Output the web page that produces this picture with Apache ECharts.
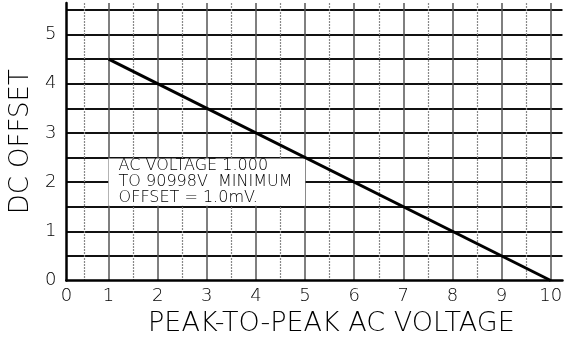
<!DOCTYPE html>
<html>
<head>
<meta charset="utf-8">
<script src="https://cdn.jsdelivr.net/npm/echarts@6/dist/echarts.min.js"></script>
<style>
  html, body { margin: 0; padding: 0; background: #fff; }
  #chart { width: 565px; height: 343px; }
</style>
</head>
<body>
<div id="chart"></div>
<script>
// Minimum DC offset against peak-to-peak AC voltage
const acVoltage = [1, 10];
const dcOffset = [4.5, 0];

// Axis ticks and labels
const xMajorTicks = [1, 2, 3, 4, 5, 6, 7, 8, 9, 10];
const xMinorTicks = [0.5, 1.5, 2.5, 3.5, 4.5, 5.5, 6.5, 7.5, 8.5, 9.5];
const xLabelValues = [0, 1, 2, 3, 4, 5, 6, 7, 8, 9, 10];
const yGridTicks = [0.5, 1, 1.5, 2, 2.5, 3, 3.5, 4, 4.5, 5, 5.5];
const yLabelValues = [0, 1, 2, 3, 4, 5];

// Note box, in data units
const noteX = [1, 5];
const noteY = [1.5, 2.5];
const noteLines = ['AC VOLTAGE 1.000', 'TO 90998V  MINIMUM', 'OFFSET = 1.0mV.'];

const X_MIN = 0.14, X_MAX = 10.24;
const Y_MIN = 0, Y_MAX = 5.64;
const FONT = '"DejaVu Sans", "Liberation Sans", sans-serif';
const INK = '#000';
const WEIGHT = 200;

const chart = echarts.init(document.getElementById('chart'), null, { renderer: 'canvas' });

chart.setOption({
  animation: false,
  backgroundColor: '#ffffff',
  grid: { left: 60, right: 0, top: 3, bottom: 62.5 },
  xAxis: [
    {
      type: 'value',
      min: X_MIN,
      max: X_MAX,
      position: 'bottom',
      name: 'PEAK-TO-PEAK AC VOLTAGE',
      nameLocation: 'middle',
      nameGap: 26,
      nameTextStyle: {
        fontFamily: FONT, fontSize: 27, fontWeight: WEIGHT, color: INK,
        padding: [0, 0, 0, 34]
      },
      axisLine: { show: true, onZero: false, lineStyle: { color: '#000', width: 2.5 } },
      axisTick: { show: false, customValues: xMajorTicks },
      axisLabel: {
        customValues: xLabelValues.map(v => Math.max(v, X_MIN)),
        formatter: v => String(Math.round(v)),
        fontFamily: FONT, fontSize: 18, fontWeight: WEIGHT, color: INK, margin: 7
      },
      splitLine: { show: true, lineStyle: { color: '#555', width: 1.5 } }
    },
    {
      type: 'value',
      min: X_MIN,
      max: X_MAX,
      position: 'bottom',
      axisLine: { show: false },
      axisTick: { show: false, customValues: xMinorTicks },
      axisLabel: { show: false },
      splitLine: { show: true, lineStyle: { color: '#888', width: 1.2, type: [2, 1] } }
    }
  ],
  yAxis: {
    type: 'value',
    min: Y_MIN,
    max: Y_MAX,
    name: 'DC OFFSET',
    nameLocation: 'middle',
    nameGap: 26,
    nameTextStyle: { fontFamily: FONT, fontSize: 26, fontWeight: WEIGHT, color: INK },
    axisLine: { show: true, onZero: false, lineStyle: { color: '#000', width: 2.5 } },
    axisTick: { show: false, customValues: yGridTicks },
    axisLabel: {
      customValues: yLabelValues,
      fontFamily: FONT, fontSize: 18, fontWeight: WEIGHT, color: INK, margin: 10
    },
    splitLine: { show: true, lineStyle: { color: '#111', width: 2 } }
  },
  series: [
    {
      // white note panel with its caption
      type: 'line',
      xAxisIndex: 0,
      data: [],
      z: 1,
      silent: true,
      markArea: {
        silent: true,
        itemStyle: { color: '#ffffff' },
        label: {
          show: true,
          position: 'insideLeft',
          distance: 10,
          formatter: noteLines.join('\n'),
          fontFamily: FONT,
          fontSize: 16,
          fontWeight: WEIGHT,
          lineHeight: 16,
          color: INK,
          align: 'left'
        },
        data: [[
          { coord: [noteX[0], noteY[0] + 0.02] },
          { coord: [noteX[1], noteY[1] - 0.02] }
        ]]
      }
    },
    {
      type: 'line',
      xAxisIndex: 0,
      z: 5,
      symbol: 'none',
      lineStyle: { color: '#000', width: 3 },
      data: acVoltage.map((x, i) => [x, dcOffset[i]])
    }
  ]
});
</script>
</body>
</html>
